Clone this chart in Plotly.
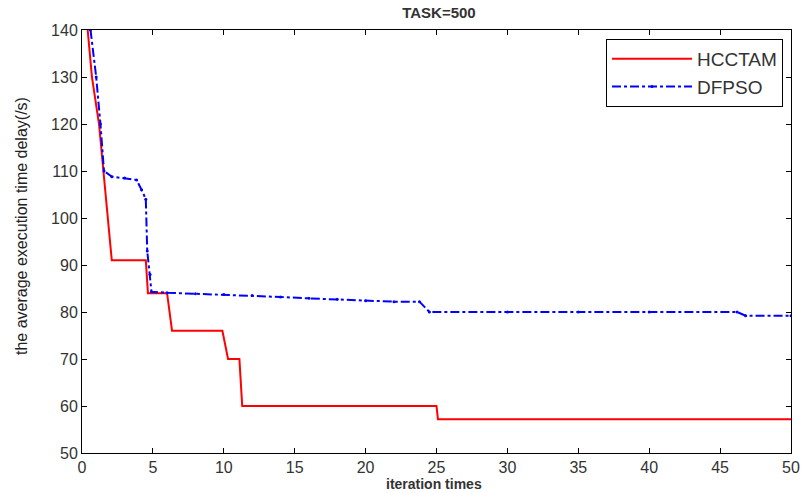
import plotly.graph_objects as go

hcctam_x = [0.4, 0.7, 1.2, 1.5, 1.85, 2.1, 4.5, 4.65, 6.0, 6.1, 6.35, 9.9, 10.1, 10.3, 11.1, 11.2, 11.3, 25.0, 25.1, 50]
hcctam_y = [140, 130, 120, 110, 100, 91, 91, 84, 84, 82, 76, 76, 73, 70, 70, 66, 60, 60, 57.2, 57.2]

dfpso_x = [0.6, 1.0, 1.3, 1.55, 2.1, 3.0, 3.85, 4.2, 4.5, 4.6, 4.8, 4.9, 6, 8, 10, 12, 14, 16, 18, 20, 22, 23.8, 24.5, 30, 35, 40, 46.2, 46.8, 50]
dfpso_y = [140, 130, 120, 110, 108.8, 108.5, 108.1, 106, 104, 93, 88, 84.3, 84.1, 83.9, 83.7, 83.5, 83.2, 82.9, 82.7, 82.4, 82.2, 82.2, 80.0, 80.0, 80.0, 80.0, 80.0, 79.2, 79.2]

x_ticks = [0, 5, 10, 15, 20, 25, 30, 35, 40, 45, 50]
y_ticks = [50, 60, 70, 80, 90, 100, 110, 120, 130, 140]

x_title = "iteration times"
y_title = "the average execution time delay(/s)"
chart_title = "TASK=500"

fig = go.Figure()
fig.add_trace(go.Scatter(x=hcctam_x, y=hcctam_y, mode="lines", name="HCCTAM",
                         line=dict(color="#ff0000", width=2)))
fig.add_trace(go.Scatter(x=dfpso_x, y=dfpso_y, mode="lines+markers", name="DFPSO",
                         line=dict(color="#0000ff", width=2, dash="dashdot"),
                         marker=dict(size=3, color="#0000ff")))

axis_common = dict(showline=True, linecolor="black", linewidth=1, mirror="ticks",
                   ticks="inside", ticklen=5, tickcolor="black", showgrid=False,
                   zeroline=False, automargin=False,
                   tickfont=dict(family="Liberation Sans, Arial", size=16, color="#333333"))

fig.update_xaxes(range=[0, 50], tickvals=x_ticks, **axis_common)
fig.update_yaxes(range=[50, 140], tickvals=y_ticks, **axis_common)

# axis titles as annotations for precise placement
fig.add_annotation(text="<b>" + x_title + "</b>", xref="paper", yref="paper",
                   x=(434 - 82) / 709, y=-(484 - 453) / 423, xanchor="center", yanchor="middle",
                   showarrow=False,
                   font=dict(family="Liberation Sans, Arial", size=14, color="#333333"))
fig.add_annotation(text=y_title, xref="paper", yref="paper", textangle=-90,
                   x=-(82 - 21) / 709, y=(453 - 226) / 423, xanchor="center", yanchor="middle",
                   showarrow=False,
                   font=dict(family="Liberation Sans, Arial", size=16, color="#222222"))

fig.update_layout(
    width=801, height=493,
    margin=dict(l=82, r=10, t=30, b=40, autoexpand=False),
    paper_bgcolor="white", plot_bgcolor="white",
    title=dict(text="<b>" + chart_title + "</b>", x=0.548, xanchor="center", y=0.975, yanchor="middle",
               font=dict(family="Liberation Sans, Arial", size=15, color="#333333")),
    legend=dict(x=0.9887, y=0.9787, xanchor="right", yanchor="top",
                bordercolor="black", borderwidth=1, bgcolor="white",
                font=dict(family="Liberation Sans, Arial", size=19, color="#333333"),
                itemwidth=80, tracegroupgap=0),
    showlegend=True,
)

fig.write_html("out.html")
